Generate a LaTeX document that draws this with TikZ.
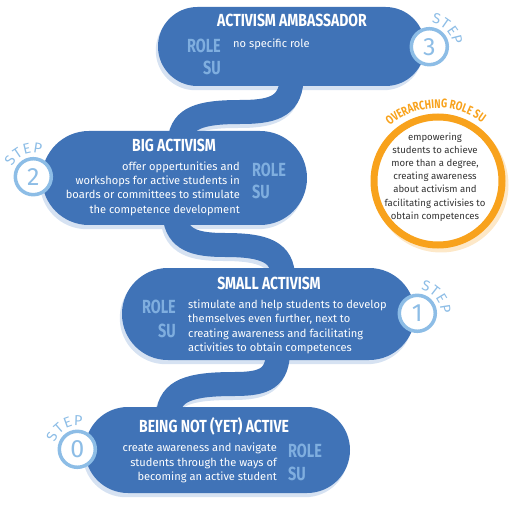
\documentclass[tikz,border=0pt]{standalone}
\usepackage{fontspec}
\setmainfont{Fira Sans}
\newfontfamily\condb{Fira Sans}[FakeStretch=0.76]
\newfontfamily\condt{Fira Sans}[FakeStretch=0.8]
\usetikzlibrary{decorations.text}
\definecolor{boxblue}{HTML}{4073B7}
\definecolor{shadeblue}{HTML}{D6E2F2}
\definecolor{stepblue}{HTML}{8DBDE6}
\definecolor{roleblue}{HTML}{7FAEDF}
\definecolor{orng}{HTML}{F8A21C}
\definecolor{orngshade}{HTML}{FDE8C8}
\definecolor{txtgray}{HTML}{333333}
\pgfdeclarelayer{bg}
\pgfsetlayers{bg,main}
\begin{document}
\begin{tikzpicture}[x=1pt,y=1pt,
  pill/.style={fill=boxblue, rounded corners=#1, inner sep=0pt},
  wave/.style={draw=boxblue, line width=24, line cap=butt},
  waveshade/.style={draw=shadeblue, line width=24, line cap=butt},
  stepc/.style={circle, draw=stepblue, line width=3.5, fill=white, minimum size=36, inner sep=0pt, text=stepblue, font=\fontsize{25}{25}\selectfont},
  steplet/.style={inner sep=0pt, text=stepblue, font=\fontsize{14.5}{14.5}\selectfont},
  ttl/.style={inner sep=0pt, text=white, font=\condt\bfseries\fontsize{17.5}{17.5}\selectfont},
  role/.style={inner sep=0pt, text=roleblue, font=\condb\bfseries\fontsize{19}{19}\selectfont},
  body/.style={inner sep=0pt, text=white, font=\fontsize{11.1}{14.1}\selectfont},
]
\useasboundingbox (0,0) rectangle (520,-508);

% boxes
\node[pill=39.4, minimum width=267, minimum height=79] (b3) at (291.5,-46.5) {};
\node[pill=46.9, minimum width=265, minimum height=94] (b2) at (174.5,-178) {};
\node[pill=45.9, minimum width=293, minimum height=92] (b1) at (268.5,-314) {};
\node[pill=42.9, minimum width=265, minimum height=86] (b0) at (217.5,-450) {};

% waves
\draw[wave] ([yshift=6]b3.south) .. controls (290,-108) and (270,-112) .. (240,-112) .. controls (200,-112) and (182,-118) .. ([shift={(5.5,-9)}]b2.north);
\draw[wave] ([yshift=10]b2.south) .. controls (177,-240) and (195,-245) .. (225,-245) .. controls (265,-245) and (283,-252) .. ([shift={(14.5,-10)}]b1.north);
\draw[wave] ([shift={(9.5,10)}]b1.south) .. controls (278,-378) and (265,-384) .. (235,-384) .. controls (190,-384) and (170,-390) .. ([shift={(-49.5,-8)}]b0.north);

% shadows
\begin{pgfonlayer}{bg}
\begin{scope}[transform canvas={shift={(-2,-4)}}]
\fill[shadeblue, rounded corners=39.4] (b3.south west) rectangle (b3.north east);
\fill[shadeblue, rounded corners=46.9] (b2.south west) rectangle (b2.north east);
\fill[shadeblue, rounded corners=45.9] (b1.south west) rectangle (b1.north east);
\fill[shadeblue, rounded corners=42.9] (b0.south west) rectangle (b0.north east);
\draw[waveshade] ([yshift=6]b3.south) .. controls (290,-108) and (270,-112) .. (240,-112) .. controls (200,-112) and (182,-118) .. ([shift={(5.5,-9)}]b2.north);
\draw[waveshade] ([yshift=10]b2.south) .. controls (177,-240) and (195,-245) .. (225,-245) .. controls (265,-245) and (283,-252) .. ([shift={(14.5,-10)}]b1.north);
\draw[waveshade] ([shift={(9.5,10)}]b1.south) .. controls (278,-378) and (265,-384) .. (235,-384) .. controls (190,-384) and (170,-390) .. ([shift={(-49.5,-8)}]b0.north);
\end{scope}
\end{pgfonlayer}

% step circles
\node[stepc] (s3) at (429.3,-46.7) {3};
\node[stepc] (s2) at (33.3,-176.7) {2};
\node[stepc] (s1) at (417.3,-313.3) {1};
\node[stepc] (s0) at (77.3,-449.3) {0};
\foreach \a/\l [count=\i] in {75/S,55/T,35/E,14/P}
  \node[steplet, rotate=\a-90] (s3l\i) at ([shift={(\a:28.5)}]s3.center) {\l};
\foreach \a/\l [count=\i] in {145/S,124/T,103/E,81/P}
  \node[steplet, rotate=\a-90] (s2l\i) at ([shift={(\a:28.5)}]s2.center) {\l};
\foreach \a/\l [count=\i] in {72/S,52/T,31/E,9/P}
  \node[steplet, rotate=\a-90] (s1l\i) at ([shift={(\a:28.5)}]s1.center) {\l};
\foreach \a/\l [count=\i] in {153/S,131/T,110/E,88/P}
  \node[steplet, rotate=\a-90] (s0l\i) at ([shift={(\a:28.5)}]s0.center) {\l};

% overarching circle
\node[circle, draw=orng, line width=7, fill=white, minimum size=128, inner sep=0pt] (oc) at (438,-181) {};
\begin{pgfonlayer}{bg}
\fill[orngshade] ([shift={(3,-4)}]oc.center) circle (67.5);
\end{pgfonlayer}
\path[decorate, decoration={text along path, text align=center,
  text={|\condb\bfseries\fontsize{12.5}{12.5}\selectfont\color{orng}|OVERARCHING ROLE SU}}]
  ([shift={(152:73)}]oc.center) arc[start angle=152, end angle=32, radius=73];
\node[inner sep=0pt, align=center, text=txtgray, font=\fontsize{9.6}{13.2}\selectfont] (octxt) at (435,-177)
  {empowering\\students to achieve\\more than a degree,\\creating awareness\\about activism and\\facilitating activisies to\\obtain competences};

% texts box 3
\node[ttl, anchor=base] (t3) at (292,-27) {ACTIVISM AMBASSADOR};
\node[role, anchor=base east] (r3a) at (221,-53) {ROLE};
\node[role, anchor=base east] (r3b) at (221,-75) {SU};
\node[body, anchor=base west] (d3) at (233,-47.5) {no specific role};

% texts box 2
\node[ttl, anchor=base] (t2) at (174,-152) {BIG ACTIVISM};
\node[role, anchor=base west] (r2a) at (252,-177) {ROLE};
\node[role, anchor=base west] (r2b) at (252,-199) {SU};
\node[body, anchor=east, align=right] (d2) at (240,-188.8)
  {offer oppertunities and\\workshops for active students in\\boards or committees to stimulate\\the competence development};

% texts box 1
\node[ttl, anchor=base] (t1) at (269,-290) {SMALL ACTIVISM};
\node[role, anchor=base east] (r1a) at (176,-313) {ROLE};
\node[role, anchor=base east] (r1b) at (176,-337) {SU};
\node[body, anchor=west, align=left] (d1) at (188,-326.9)
  {stimulate and help students to develop\\themselves even further, next to\\creating awareness and facilitating\\activities to obtain competences};

% texts box 0
\node[ttl, anchor=base] (t0) at (214,-432) {BEING NOT (YET) ACTIVE};
\node[role, anchor=base west] (r0a) at (288,-457) {ROLE};
\node[role, anchor=base west] (r0b) at (288,-480) {SU};
\node[body, anchor=east, align=right] (d0) at (277,-462.9)
  {create awareness and navigate\\students through the ways of\\becoming an active student};
\end{tikzpicture}
\end{document}
